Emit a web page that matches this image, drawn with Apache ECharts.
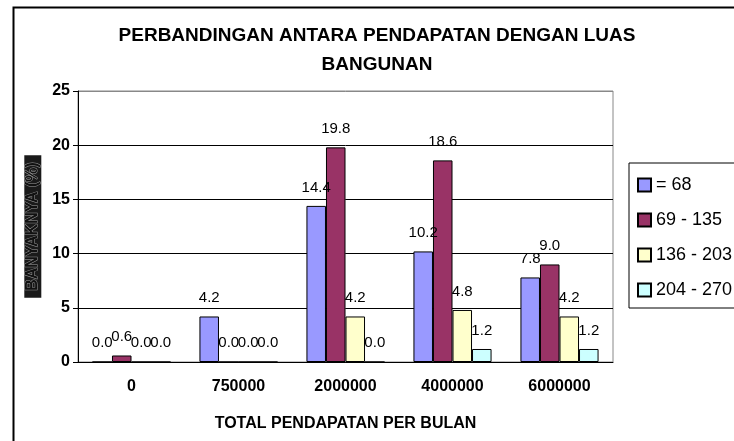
<!DOCTYPE html>
<html>
<head>
<meta charset="utf-8">
<script src="https://cdn.jsdelivr.net/npm/echarts@6/dist/echarts.min.js"></script>
<style>
  html, body { margin: 0; padding: 0; background: #fff; }
  #chart { width: 734px; height: 441px; }
</style>
</head>
<body>
<div id="chart"></div>
<script>
const categories = ["0", "750000", "2000000", "4000000", "6000000"];
const seriesNames = ["= 68", "69 - 135", "136 - 203", "204 - 270"];
const upTo68 = [0.0, 4.2, 14.4, 10.2, 7.8];
const from69to135 = [0.6, 0.0, 19.8, 18.6, 9.0];
const from136to203 = [0.0, 0.0, 4.2, 4.8, 4.2];
const from204to270 = [0.0, 0.0, 0.0, 1.2, 1.2];
const barColors = ["#9999FF", "#993366", "#FFFFCC", "#CCFFFF"];

const font = "'Liberation Sans', Arial, sans-serif";
const myChart = echarts.init(document.getElementById("chart"));

const makeSeries = (name, data, color) => ({
  name,
  type: "bar",
  data,
  barGap: "0%",
  barCategoryGap: "27%",
  itemStyle: { color, borderColor: "#000", borderWidth: 1 },
  label: {
    show: true,
    position: "top",
    distance: 11,
    color: "#000",
    fontSize: 15,
    fontFamily: font,
    formatter: (p) => p.value.toFixed(1),
  },
});

let option = {
  animation: false,
  backgroundColor: "#fff",
  textStyle: { fontFamily: font },
  title: {
    text: "PERBANDINGAN ANTARA PENDAPATAN DENGAN LUAS\nBANGUNAN",
    left: 377,
    top: 21,
    padding: 0,
    textAlign: "center",
    textStyle: {
      fontSize: 19,
      fontWeight: "bold",
      color: "#000",
      lineHeight: 29,
      fontFamily: font,
    },
  },
  graphic: [
    {
      type: "rect",
      left: 11,
      top: 5,
      shape: { width: 800, height: 500 },
      style: { fill: "none", stroke: "#000", lineWidth: 2 },
    },
  ],
  legend: {
    orient: "vertical",
    left: 629,
    top: 163,
    padding: [13, 20, 9, 8],
    itemGap: 17,
    itemWidth: 13,
    itemHeight: 13,
    icon: "rect",
    backgroundColor: "#fff",
    borderColor: "#000",
    borderWidth: 1,
    textStyle: { fontSize: 18, color: "#000", fontFamily: font },
    data: seriesNames,
  },
  grid: {
    left: 78,
    right: 121,
    top: 91,
    bottom: 79,
    show: true,
    borderColor: "#888",
    borderWidth: 1,
    backgroundColor: "#fff",
  },
  xAxis: {
    type: "category",
    data: categories,
    name: "TOTAL PENDAPATAN PER BULAN",
    nameLocation: "middle",
    nameGap: 54,
    nameTextStyle: { fontSize: 16, fontWeight: "bold", color: "#000" },
    axisLine: { lineStyle: { color: "#000", width: 1 } },
    axisTick: { length: 5, lineStyle: { color: "#000" } },
    axisLabel: { fontSize: 16, fontWeight: "bold", color: "#000", margin: 17 },
  },
  yAxis: {
    type: "value",
    min: 0,
    max: 25,
    interval: 5,
    name: "BANYAKNYA (%)",
    nameLocation: "middle",
    nameRotate: 90,
    nameGap: 36,
    nameTextStyle: {
      fontSize: 16,
      fontWeight: "bold",
      color: "#111",
      textBorderColor: "#9a9a9a",
      textBorderWidth: 1,
      backgroundColor: "#1a1a1a",
      padding: [0, 7],
      lineHeight: 17,
    },
    axisLine: { show: true, lineStyle: { color: "#000", width: 1 } },
    axisTick: { show: true, length: 5, lineStyle: { color: "#000" } },
    axisLabel: { fontSize: 16, fontWeight: "bold", color: "#000", margin: 8 },
    splitLine: {
      show: true,
      lineStyle: { color: ["#000", "#000", "#000", "#000", "#000", "#888"], width: 1 },
    },
  },
  series: [
    makeSeries(seriesNames[0], upTo68, barColors[0]),
    makeSeries(seriesNames[1], from69to135, barColors[1]),
    makeSeries(seriesNames[2], from136to203, barColors[2]),
    makeSeries(seriesNames[3], from204to270, barColors[3]),
  ],
};

myChart.setOption(option, true);
</script>
</body>
</html>
